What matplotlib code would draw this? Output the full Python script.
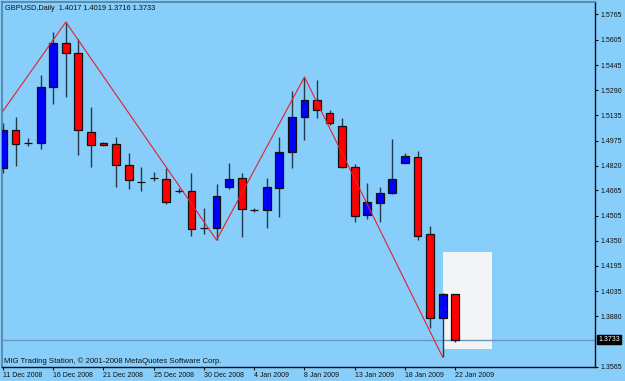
import matplotlib
matplotlib.use('Agg')
import matplotlib.pyplot as plt
from matplotlib.patches import Rectangle
import matplotlib.transforms as mtransforms

# ---------------- data ----------------
opens = [1.4804, 1.5041, 1.4958, 1.4960, 1.5310, 1.5584, 1.5522, 1.5029, 1.4960, 1.4954,
         1.4823, 1.4718, 1.4743, 1.4736, 1.4662, 1.4661, 1.4428, 1.4430, 1.4686, 1.4742,
         1.4543, 1.4542, 1.4680, 1.4904, 1.5123, 1.5229, 1.5147, 1.5066, 1.4811, 1.4511,
         1.4586, 1.4648, 1.4836, 1.4873, 1.4393, 1.3869, 1.4017]
highs = [1.5085, 1.5123, 1.4991, 1.5384, 1.5653, 1.5715, 1.5609, 1.5185, 1.4966, 1.4998,
         1.4898, 1.4811, 1.4779, 1.4804, 1.4680, 1.4773, 1.4555, 1.4705, 1.4836, 1.4773,
         1.4555, 1.4742, 1.4998, 1.5285, 1.5372, 1.5353, 1.5166, 1.5116, 1.4829, 1.4711,
         1.4686, 1.4985, 1.4898, 1.4910, 1.4443, 1.4025, 1.4019]
lows = [1.4773, 1.4817, 1.4942, 1.4923, 1.5204, 1.5247, 1.4885, 1.4811, 1.4942, 1.4686,
        1.4673, 1.4661, 1.4723, 1.4580, 1.4648, 1.4380, 1.4393, 1.4355, 1.4673, 1.4374,
        1.4530, 1.4430, 1.4499, 1.4804, 1.4979, 1.5116, 1.5073, 1.4804, 1.4468, 1.4486,
        1.4468, 1.4642, 1.4836, 1.4355, 1.3806, 1.3625, 1.3716]
closes = [1.5041, 1.4954, 1.4962, 1.5310, 1.5584, 1.5522, 1.5041, 1.4948, 1.4948, 1.4823,
          1.4730, 1.4716, 1.4741, 1.4592, 1.4660, 1.4424, 1.4430, 1.4630, 1.4736, 1.4549,
          1.4541, 1.4686, 1.4904, 1.5123, 1.5229, 1.5166, 1.5085, 1.4811, 1.4505, 1.4592,
          1.4648, 1.4736, 1.4879, 1.4380, 1.3869, 1.4017, 1.3733]

date_label_idx = [0, 4, 8, 12, 16, 20, 24, 28, 32, 36]
date_labels = ['11 Dec 2008', '16 Dec 2008', '21 Dec 2008', '25 Dec 2008', '30 Dec 2008',
               '4 Jan 2009', '8 Jan 2009', '13 Jan 2009', '18 Jan 2009', '22 Jan 2009']

price_ticks = [1.5765, 1.5605, 1.5445, 1.5290, 1.5135, 1.4975, 1.4820, 1.4665,
               1.4505, 1.4350, 1.4195, 1.4035, 1.3880, 1.3565]
price_tick_labels = ['1.5765', '1.5605', '1.5445', '1.5290', '1.5135', '1.4975', '1.4820',
                     '1.4665', '1.4505', '1.4350', '1.4195', '1.4035', '1.3880', '1.3565']

zigzag_idx = [0, 5, 17, 24, 35]
zigzag_val = [1.5160, 1.5715, 1.4355, 1.5372, 1.3625]

rect_idx = [35.0, 38.9]
rect_price = [1.3675, 1.4280]

last_price = 1.3733
title_text = 'GBPUSD,Daily  1.4017 1.4019 1.3716 1.3733'
footer_text = 'MIG Trading Station, \u00a9 2001-2008 MetaQuotes Software Corp.'

# ---------------- drawing ----------------
BG = '#87CEFA'
W, H = 625, 381
fig = plt.figure(figsize=(W / 100, H / 100), dpi=100, facecolor=BG)
ax = fig.add_axes([2 / W, 1 - 367 / H, (595 - 2) / W, (367 - 2) / H])
ax.set_facecolor(BG)

ax.set_xlim(-0.08, 47.13)
ax.set_ylim(1.3563, 1.5840)

FONT = 'Liberation Sans'
FS = 5.0

# white rectangle object
ax.add_patch(Rectangle((rect_idx[0], rect_price[0]), rect_idx[1] - rect_idx[0],
                       rect_price[1] - rect_price[0], facecolor='#f3f4f6',
                       edgecolor='none', zorder=1))

# current price line
ax.axhline(last_price, color='#6a97bb', lw=1.0, zorder=1.5)

bw = 0.62
for i, (o, h, l, c) in enumerate(zip(opens, highs, lows, closes)):
    ax.vlines(i, l, h, color='#243a4a', lw=1.0, zorder=2)
    bull = c >= o
    col = '#0000FF' if bull else '#FF0000'
    lo, hi = min(o, c), max(o, c)
    ax.add_patch(Rectangle((i - bw / 2, lo), bw, max(hi - lo, 0.0001),
                           facecolor=col, edgecolor='#111111', lw=0.9, zorder=3))

# zigzag
ax.plot(zigzag_idx, zigzag_val, color='#e8202a', lw=0.8, zorder=4)

# spines
for s in ['top', 'left']:
    ax.spines[s].set_color('#55809f')
    ax.spines[s].set_linewidth(1.2)
for s in ['right', 'bottom']:
    ax.spines[s].set_color('#111111')
    ax.spines[s].set_linewidth(1.0)

ax.yaxis.tick_right()
ax.set_yticks(price_ticks)
ax.set_yticklabels(price_tick_labels, fontsize=FS, family=FONT, color='#111111')
ax.tick_params(axis='y', direction='out', length=2, width=0.8, pad=2, color='#111111')

ax.set_xticks(date_label_idx)
ax.set_xticklabels(date_labels, fontsize=FS, family=FONT, color='#111111', ha='left')
ax.tick_params(axis='x', direction='out', length=2, width=0.8, pad=1.5, color='#111111')
for lbl in ax.get_xticklabels():
    lbl.set_horizontalalignment('left')

# price label at right
trans = mtransforms.blended_transform_factory(ax.transAxes, ax.transData)
ax.text(1.0 + 3 / 593, last_price, '1.3733', transform=trans, fontsize=FS, family=FONT,
        color='white', va='center', ha='left',
        bbox=dict(boxstyle='square,pad=0.15', facecolor='black', edgecolor='black'),
        zorder=10, clip_on=False)

fig.text(5 / W, 1 - 8 / H, title_text, fontsize=5.3, family=FONT, color='#111111',
         va='center', ha='left')
fig.text(4 / W, 1 - 361 / H, footer_text, fontsize=5.6, family=FONT, color='#111111',
         va='center', ha='left')

fig.savefig('out.png', dpi=100, facecolor=BG)
